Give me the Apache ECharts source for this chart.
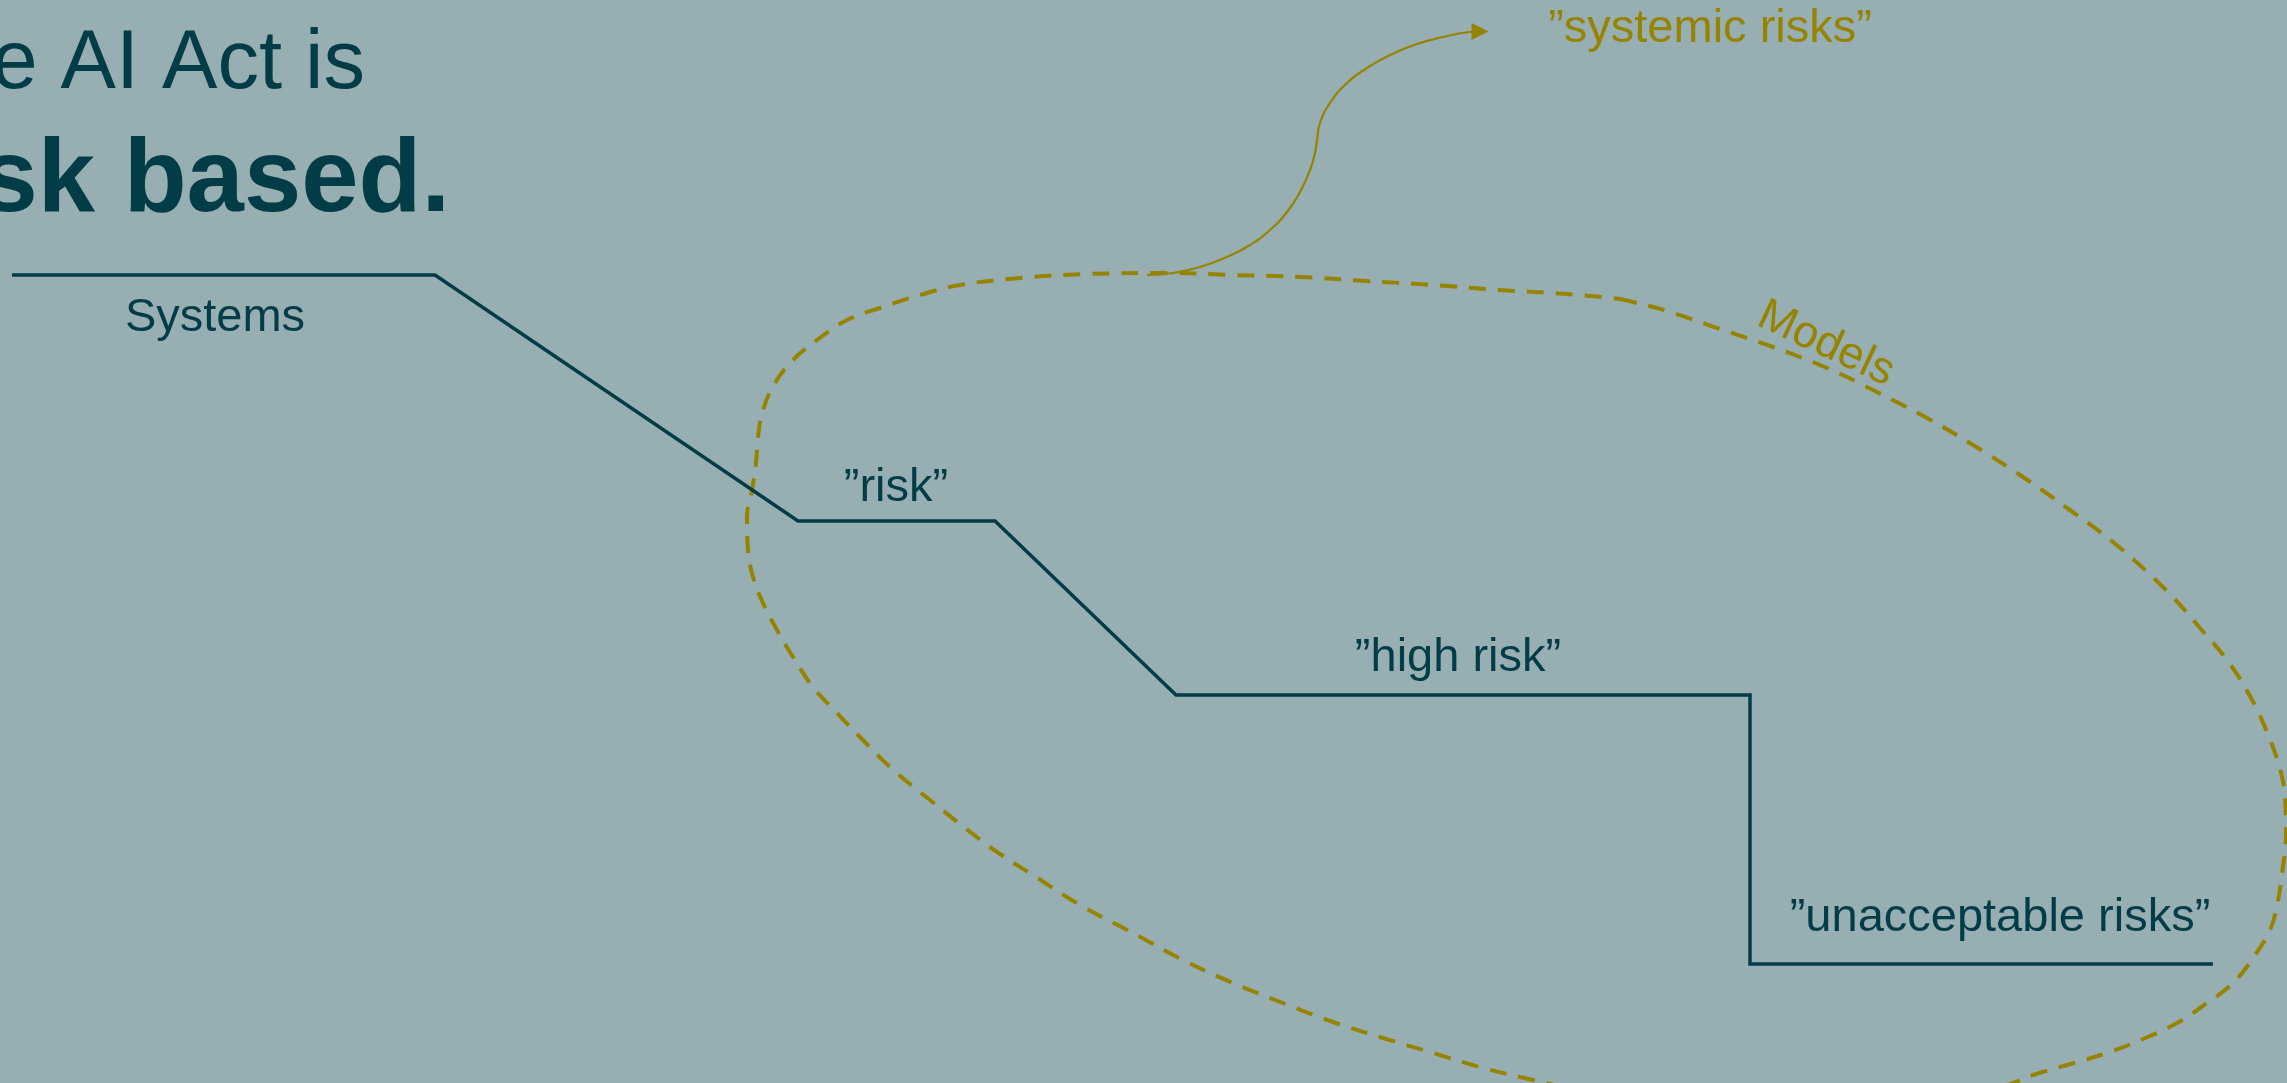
<!DOCTYPE html>
<html>
<head>
<meta charset="utf-8">
<script src="https://cdn.jsdelivr.net/npm/echarts@6/dist/echarts.min.js"></script>
<style>
html,body{margin:0;padding:0;background:#97AEB2;}
#chart{width:2287px;height:1083px;}
</style>
</head>
<body>
<div id="chart"></div>
<script>
// Staircase (risk levels)
const stairX = [12, 435, 798, 995, 1176, 1750, 1750, 2213];
const stairY = [275, 275, 521, 521, 695, 695, 964, 964];

// Dashed "Models" outline (closed, clipped at the bottom)
const blobX = [1620,1633,1667,1720,1773,1827,1877,1927,1973,2023,2067,2113,2167,2200,2227,2250,2267,2280,2285,2286,2282,2277,2270,2253,2233,2207,2177,2143,2107,2067,2033,2013,1960,1880,1780,1680,1600,1546,1520,1483,1433,1383,1333,1283,1233,1183,1133,1080,1033,1000,965,930,890,860,837,813,793,777,763,753,748,747,752,756,758,763,775,793,817,847,880,920,960,1020,1087,1167,1233,1300,1367,1433,1500,1567,1620];
const blobY = [299,302,311,329,347,368,392,418,445,477,508,542,591,628,660,696,732,769,797,833,874,906,930,958,983,1003,1023,1039,1053,1065,1075,1083,1100,1114,1118,1108,1095,1083,1077,1068,1053,1038,1022,1003,983,960,933,905,875,854,828,800,767,737,713,687,657,630,603,577,550,517,490,463,437,410,383,360,340,320,308,295,285,278,274,273,275,277,281,285,290,294,299];

// Curved arrow to "systemic risks"
const arrowX = [1147,1173,1200,1227,1250,1270,1287,1300,1310,1315,1317,1320,1330,1347,1367,1390,1417,1443,1470,1480];
const arrowY = [275,273,267,257,245,230,212,192,170,153,140,123,103,83,68,55,44,37,32,31.5];

// Labels
const stairLabels = ['Systems', '\u201Drisk\u201D', '\u201Dhigh risk\u201D', '\u201Dunacceptable risks\u201D'];
const stairLabelX = [215, 896, 1458, 2000];
const stairLabelY = [332, 502, 672, 932];
const oliveLabels = ['\u201Dsystemic risks\u201D', 'Models'];
const oliveLabelX = [1710, 1826];
const oliveLabelY = [43, 344];
const titleLines = ['The AI Act is', 'risk based.'];

const DARK = '#023D47';
const OLIVE = '#968400';
const FONT = "'Liberation Sans', Arial, sans-serif";
const FS = 47;

const chart = echarts.init(document.getElementById('chart'), null, {renderer: 'canvas'});

const zip = (xs, ys) => xs.map((x, i) => [x, ys[i]]);
const mid = (baseline, size) => baseline - 0.30 * size;

const labelSeries = (names, xs, ys, color, extra) => ({
  type: 'scatter',
  symbolSize: 0,
  silent: true,
  itemStyle: {opacity: 1},
  data: names.map((t, i) => Object.assign({
    name: t,
    value: [xs[i], ys[i]]
  }, extra ? extra(i) : {})),
  label: {
    show: true, position: 'inside', formatter: '{b}',
    color: color, opacity: 1, fontFamily: FONT, fontSize: FS,
    align: 'center', verticalAlign: 'middle'
  }
});

const option = {
  backgroundColor: '#97AEB2',
  animation: false,
  grid: {left: 0, right: 0, top: 0, bottom: 0},
  xAxis: {type: 'value', min: 0, max: 2287, show: false},
  yAxis: {type: 'value', min: 0, max: 1083, inverse: true, show: false},
  series: [
    {
      type: 'line',
      data: zip(blobX, blobY),
      smooth: 0.4,
      symbol: 'none',
      clip: true,
      lineStyle: {color: OLIVE, width: 4, type: [17, 12]},
      silent: true
    },
    {
      type: 'line',
      data: zip(stairX, stairY),
      symbol: 'none',
      lineStyle: {color: DARK, width: 3.5, join: 'miter'},
      silent: true
    },
    {
      type: 'line',
      data: zip(arrowX, arrowY).map((p, i, a) => i === a.length - 1
        ? {value: p, symbol: 'triangle', symbolSize: [17, 17], symbolRotate: -90, itemStyle: {color: OLIVE}}
        : {value: p, symbol: 'none'}),
      smooth: true,
      showSymbol: true,
      lineStyle: {color: OLIVE, width: 2.2},
      itemStyle: {color: OLIVE},
      silent: true
    },
    labelSeries(stairLabels, stairLabelX, stairLabelY.map(b => mid(b, FS)), DARK),
    labelSeries(oliveLabels, oliveLabelX, [mid(oliveLabelY[0], FS), oliveLabelY[1]], OLIVE,
      i => i === 1 ? {label: {rotate: -25, fontSize: 45}} : {})
  ],
  graphic: [
    {
      type: 'text', x: 365, y: mid(90, 83), silent: true,
      style: {text: titleLines[0], fill: DARK, font: "83px 'Liberation Sans', Arial, sans-serif", align: 'right', verticalAlign: 'middle'}
    },
    {
      type: 'text', x: 450, y: mid(213, 103), silent: true,
      style: {text: titleLines[1], fill: DARK, font: "bold 103px 'Liberation Sans', Arial, sans-serif", align: 'right', verticalAlign: 'middle'}
    }
  ]
};
chart.setOption(option);
</script>
</body>
</html>
